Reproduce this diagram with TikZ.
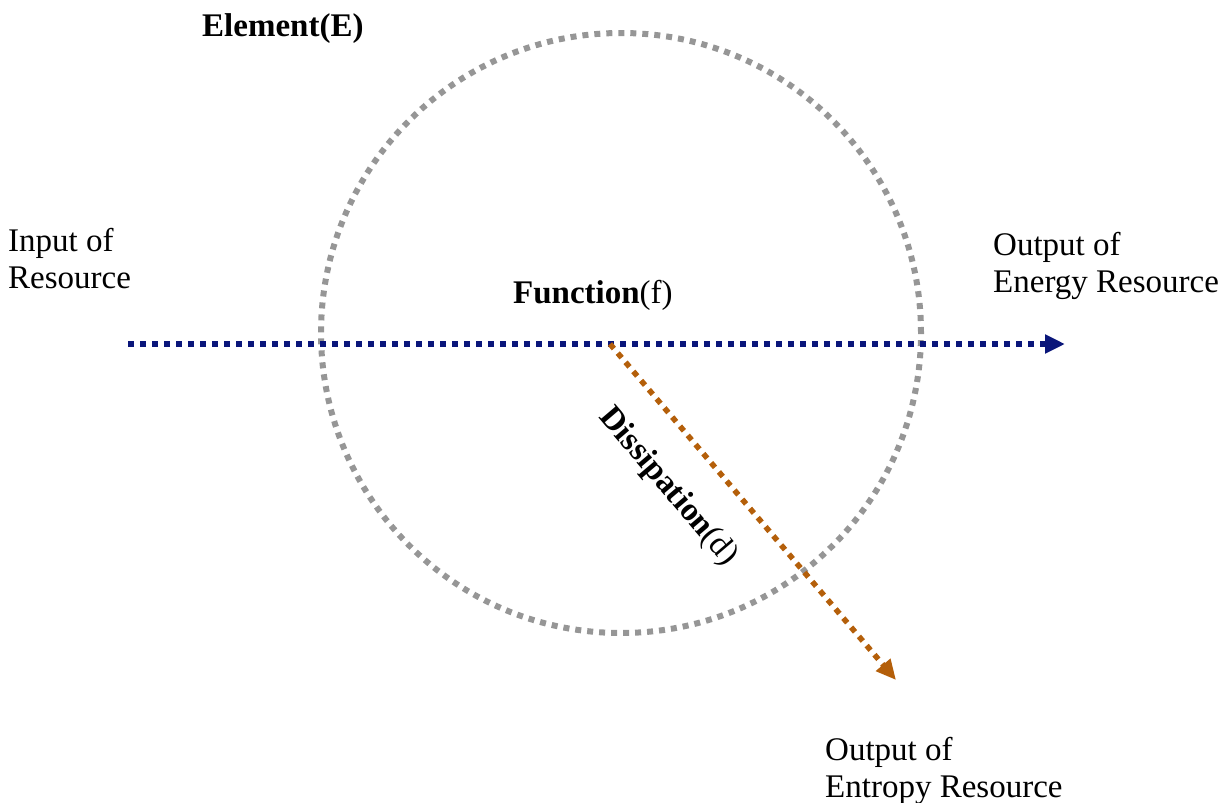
\documentclass[tikz,border=0pt]{standalone}
\usepackage{fontspec}
\setmainfont{Liberation Serif}
\usetikzlibrary{arrows.meta}
\definecolor{ringgray}{RGB}{150,150,150}
\definecolor{flownavy}{RGB}{10,22,122}
\definecolor{lossbrown}{RGB}{180,95,10}
\tikzset{
  lbl/.style={inner sep=0pt, font=\fontsize{33}{37}\selectfont, align=left},
  dotline/.style={line width=5.5pt, dash pattern=on 6pt off 6pt},
  flowtip/.style={-{Triangle[length=20pt,width=18pt]}},
}
\begin{document}
\begin{tikzpicture}[x=1pt,y=-1pt]
  \useasboundingbox (0,0) rectangle (1232,803);

  % the element boundary
  \node[draw=ringgray, line width=6pt, dash pattern=on 6pt off 6pt,
        circle, minimum size=600pt, inner sep=0pt] (elem) at (621,333) {};
  \node[lbl, anchor=base west, font=\fontsize{33}{37}\selectfont\bfseries] (elabel) at (202,36) {Element(E)};

  % resource flow through the element
  \coordinate (inflow) at (128,344);
  \coordinate (outflow) at (1065,344);
  \coordinate (split) at (610,344);
  \coordinate (loss) at (896,680);
  \draw[dotline, flownavy, flowtip] (inflow) -- (outflow);
  \draw[dotline, lossbrown, flowtip] (split) -- (loss);

  % labels (base anchor sits on the last line)
  \node[lbl, anchor=base west] (inlabel) at (8,288) {Input of\\Resource};
  \node[lbl, anchor=base west] (energylabel) at (993,292) {Output of\\Energy Resource};
  \node[lbl, anchor=base west] (entropylabel) at (825,797) {Output of\\Entropy Resource};
  \node[lbl, anchor=base west] (flabel) at (513,303) {\textbf{Function}(f)};
  \node[lbl, rotate=-49.6] (dlabel) at (668,487) {\textbf{Dissipation}(d)};
\end{tikzpicture}
\end{document}
